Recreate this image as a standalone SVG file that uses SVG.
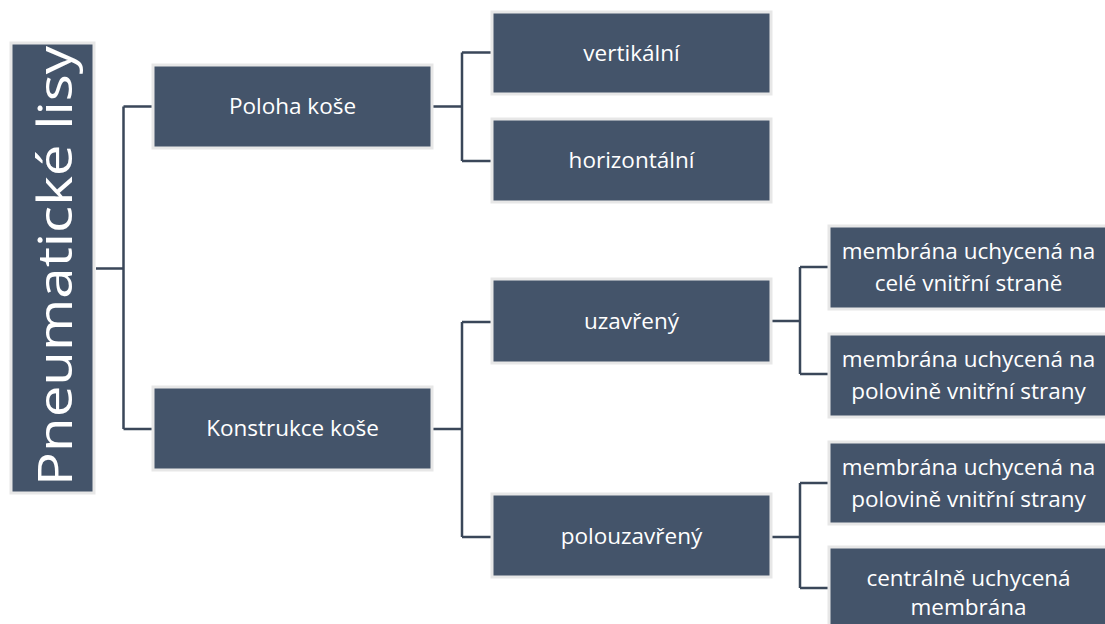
<svg xmlns="http://www.w3.org/2000/svg" width="1105" height="624" viewBox="0 0 1105 624">
<style>
.box{fill:#44546A;stroke:#E7E7E7;stroke-width:3}
.t{fill:#FFFFFF;font-family:"Open Sans","Liberation Sans",sans-serif;font-size:22.5px;text-anchor:middle;dominant-baseline:central}
.c{fill:none;stroke:#3A4759;stroke-width:2.5}
</style>
<rect width="1105" height="624" fill="#FFFFFF"/>
<g id="connectors">
<path class="c" d="M96 268.5H123.5M123.5 106.5V429M123.5 106.5H153M123.5 429H153"/>
<path class="c" d="M433 106.5H462M462 52.5V161M462 52.5H492M462 161H492"/>
<path class="c" d="M433 429H462M462 322V537M462 322H492M462 537H492"/>
<path class="c" d="M772 321H800M800 267V374M800 267H829M800 374H829"/>
<path class="c" d="M772 537H800M800 483V588M800 483H829M800 588H829"/>
</g>
<g id="root">
<rect class="box" x="11" y="43" width="83" height="450"/>
<text class="t" transform="translate(53 266) rotate(-90)" style="font-size:48px" textLength="440" lengthAdjust="spacingAndGlyphs">Pneumatické lisy</text>
</g>
<g id="poloha">
<rect class="box" x="153" y="65" width="279" height="83"/>
<text class="t" x="292.5" y="105.5">Poloha koše</text>
</g>
<g id="konstrukce">
<rect class="box" x="153" y="387" width="279" height="83"/>
<text class="t" x="292.5" y="427.5">Konstrukce koše</text>
</g>
<g id="vertikalni">
<rect class="box" x="492" y="12" width="279" height="82"/>
<text class="t" x="631.5" y="52">vertikální</text>
</g>
<g id="horizontalni">
<rect class="box" x="492" y="119" width="279" height="83"/>
<text class="t" x="631.5" y="159.5">horizontální</text>
</g>
<g id="uzavreny">
<rect class="box" x="492" y="279" width="279" height="84"/>
<text class="t" x="631.5" y="320">uzavřený</text>
</g>
<g id="polouzavreny">
<rect class="box" x="492" y="494" width="279" height="83"/>
<text class="t" x="631.5" y="535">polouzavřený</text>
</g>
<g id="celestrane">
<rect class="box" x="829" y="226" width="279" height="83"/>
<text class="t" x="968.5" y="250">membrána uchycená na</text>
<text class="t" x="968.5" y="282">celé vnitřní straně</text>
</g>
<g id="polovine1">
<rect class="box" x="829" y="334" width="279" height="83"/>
<text class="t" x="968.5" y="358">membrána uchycená na</text>
<text class="t" x="968.5" y="390">polovině vnitřní strany</text>
</g>
<g id="polovine2">
<rect class="box" x="829" y="442" width="279" height="82"/>
<text class="t" x="968.5" y="466">membrána uchycená na</text>
<text class="t" x="968.5" y="498">polovině vnitřní strany</text>
</g>
<g id="centralne">
<rect class="box" x="829" y="547" width="279" height="83"/>
<text class="t" x="968.5" y="577">centrálně uchycená</text>
<text class="t" x="968.5" y="606">membrána</text>
</g>
</svg>
